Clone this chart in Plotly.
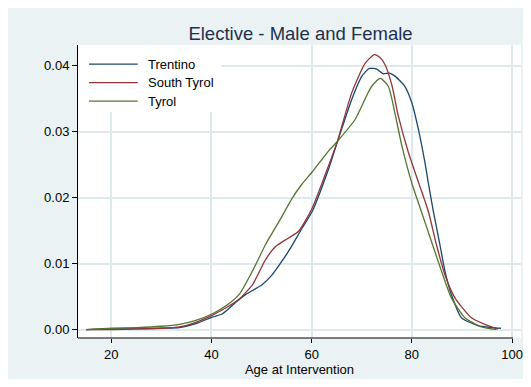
import plotly.graph_objects as go

# ---- data ----
trentino_x = [15, 20, 25, 30, 33.6, 36.9, 40.2, 42.2, 44.8, 46.8, 50.1, 52.1, 54.1, 55.8, 58.1, 60.1,
              63.4, 65.2, 68.0, 70.0, 71.5, 73.0, 74.3, 75.5, 76.7, 78.6, 80.0, 81.3, 82.6, 83.3,
              84.3, 85.6, 86.6, 87.9, 89.9, 93.2, 96.0, 97.8]
trentino_y = [0.0000, 0.0001, 0.0001, 0.0002, 0.0003, 0.0009, 0.0019, 0.0024, 0.0041, 0.0053, 0.0068,
              0.0083, 0.0104, 0.0124, 0.0154, 0.0179, 0.0244, 0.0286, 0.0349, 0.0384, 0.0396, 0.0395,
              0.0388, 0.0389, 0.0384, 0.0369, 0.0344, 0.0304, 0.0254, 0.0222, 0.0179, 0.0129, 0.0089,
              0.0053, 0.0018, 0.0006, 0.0003, 0.0002]

south_tyrol_x = [15, 20, 25, 30, 33.6, 36.9, 40.2, 42.9, 45.5, 48.2, 50.8, 52.8, 55.4, 57.4, 60.1,
                 63.4, 65.2, 68.0, 70.7, 72.5, 73.6, 74.7, 76.0, 77.3, 79.3, 81.3, 83.3, 84.9, 86.6,
                 88.6, 91.9, 95.2, 97.2]
south_tyrol_y = [0.0000, 0.0000, 0.0001, 0.0002, 0.0004, 0.0011, 0.0022, 0.0033, 0.0046, 0.0068, 0.0106,
                 0.0126, 0.0139, 0.0149, 0.0184, 0.0249, 0.0287, 0.0359, 0.0404, 0.0417, 0.0413, 0.0401,
                 0.0371, 0.0324, 0.0269, 0.0224, 0.0179, 0.0129, 0.0083, 0.0048, 0.0018, 0.0006, 0.0001]

tyrol_x = [15, 20, 25, 30, 33.6, 36.9, 40.2, 42.9, 45.5, 48.2, 50.8, 53.5, 56.1, 58.0, 60.1, 63.4,
           65.2, 68.7, 71.0, 72.0, 73.7, 75.3, 76.6, 78.0, 80.0, 81.9, 83.9, 85.9, 87.9, 90.6, 93.9, 96.9]
tyrol_y = [0.0000, 0.0002, 0.0003, 0.0005, 0.0008, 0.0014, 0.0024, 0.0036, 0.0053, 0.0089, 0.0129,
           0.0164, 0.0199, 0.0220, 0.0239, 0.0271, 0.0286, 0.0319, 0.0355, 0.0369, 0.0381, 0.0369,
           0.0329, 0.0279, 0.0222, 0.0179, 0.0134, 0.0089, 0.0048, 0.0018, 0.0004, 0.0000]

series_names = ["Trentino", "South Tyrol", "Tyrol"]
x_ticks = [20, 40, 60, 80, 100]
y_ticks = [0.0, 0.01, 0.02, 0.03, 0.04]
y_tick_labels = ["0.00", "0.01", "0.02", "0.03", "0.04"]
title_text = "Elective - Male and Female"
x_title = "Age at Intervention"

colors = ["#1a476f", "#90353b", "#55752f"]
BG = "#eaf2f3"
GRID = "#dfe9ec"
FONT = "Liberation Sans, Arial, sans-serif"

W, H = 523, 371
ML, MR, MT, MB = 70, 8, 37, 38
PW, PH = W - ML - MR, H - MT - MB
X_RANGE = [13.36, 101.79]


def px_x(p):
    """figure pixel x -> paper x"""
    return (p - ML) / PW


def px_y(p):
    """figure pixel y (from top) -> paper y"""
    return (H - MB - p) / PH


fig = go.Figure()
for name, xs, ys, c in zip(series_names,
                           [trentino_x, south_tyrol_x, tyrol_x],
                           [trentino_y, south_tyrol_y, tyrol_y], colors):
    fig.add_trace(go.Scatter(x=xs, y=ys, mode="lines", name=name, showlegend=False,
                             line=dict(color=c, width=1.3, shape="spline", smoothing=0.6)))

# x axis line running from the y axis to the last tick (Stata style)
fig.add_shape(type="line", xref="x", yref="paper", x0=X_RANGE[0], x1=x_ticks[-1] + 0.2, y0=0, y1=0,
              line=dict(color="#000000", width=1), layer="above")

# custom legend (Stata-style long line samples) in a white box over the gridlines
fig.add_shape(type="rect", xref="paper", yref="paper", x0=0, x1=px_x(214), y0=px_y(105), y1=1,
              fillcolor="white", line=dict(width=0), layer="above")
row_y = [56.3, 75.0, 93.6]
for name, c, ry in zip(series_names, colors, row_y):
    fig.add_shape(type="line", xref="paper", yref="paper", x0=px_x(81), x1=px_x(130),
                  y0=px_y(ry), y1=px_y(ry), line=dict(color=c, width=1.3), layer="above")
    fig.add_annotation(xref="paper", yref="paper", x=px_x(138.5), y=px_y(ry), text=name,
                       showarrow=False, xanchor="left", yanchor="middle",
                       font=dict(size=13, color="#000000", family=FONT))

fig.update_layout(
    width=W, height=H,
    margin=dict(l=ML, r=MR, t=MT, b=MB),
    paper_bgcolor=BG, plot_bgcolor="white",
    font=dict(family=FONT, size=13, color="#000000"),
    title=dict(text=title_text, x=px_x(292.5) * PW / W + ML / W, xanchor="center",
               y=1 - 26 / H, yanchor="middle",
               font=dict(size=18.5, color="#1f2f4f", family=FONT)),
    showlegend=False,
    xaxis=dict(range=X_RANGE, tickvals=x_ticks, showgrid=True, gridcolor=GRID, gridwidth=1.5,
               zeroline=False, showline=False,
               ticks="outside", ticklen=4, tickcolor="#000000",
               title=dict(text=x_title, standoff=0, font=dict(size=13)),
               tickfont=dict(size=13)),
    yaxis=dict(range=[-0.00128, 0.04316], tickvals=y_ticks, ticktext=y_tick_labels,
               showgrid=True, gridcolor=GRID, gridwidth=1.5, zeroline=False,
               showline=True, linecolor="#000000", linewidth=1,
               ticks="outside", ticklen=5, tickcolor="#000000", tickfont=dict(size=13)),
)

fig.write_html("out.html")
